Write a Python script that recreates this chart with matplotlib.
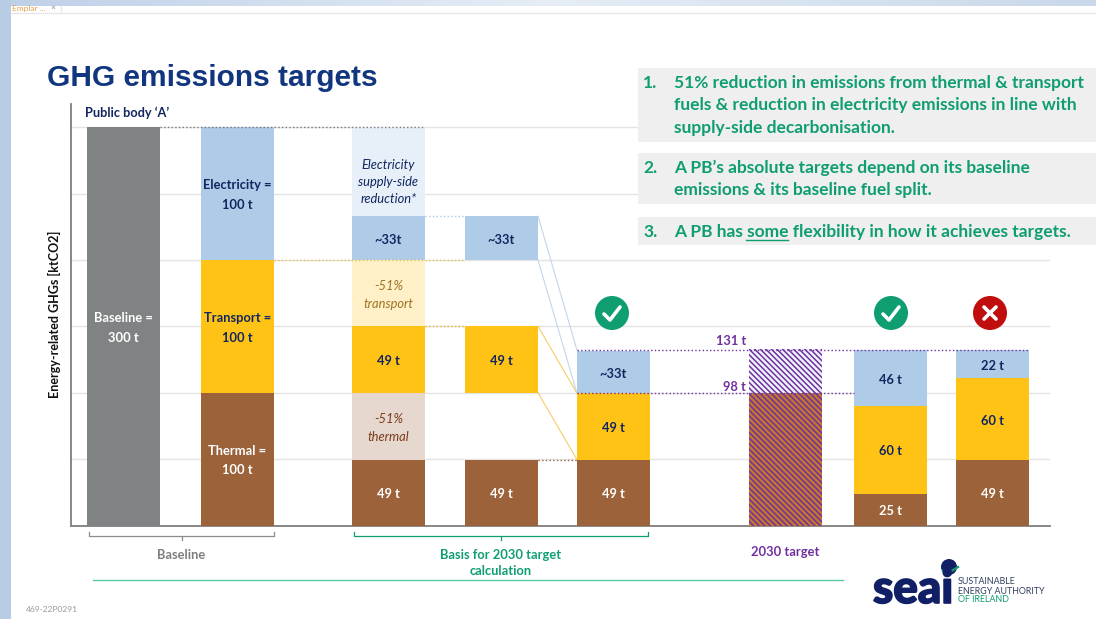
import matplotlib
matplotlib.use('Agg')
import matplotlib.pyplot as plt
import matplotlib.patheffects as pe
from matplotlib.patches import Circle, Rectangle
import numpy as np

plt.rcParams['font.family'] = ['Lato', 'DejaVu Sans']

# chart values (tonnes) as drawn on the slide, bottom to top in each column
baseline_total = [300]
baseline_split = [100, 100, 100]
basis_thermal = [49.5, 49.5, 49.5]
basis_thermal_cut = 50.5
basis_transport = [50, 50, 50]
basis_transport_cut = 50
basis_elec = [33, 33, 32]
basis_elec_cut = 67
target_levels = [99.5, 132]
option_ok = [24, 66, 42]
option_bad = [49.5, 61.5, 21]

baseline_labels = ['Thermal =\n100 t', 'Transport =\n100 t', 'Electricity =\n100 t']
option_ok_labels = ['25 t', '60 t', '46 t']
option_bad_labels = ['49 t', '60 t', '22 t']

BROWN = '#9c6239'
YELLOW = '#ffc316'
BLUE = '#aecbe8'
NAVY = '#12265f'
GREEN = '#0f9d72'
PURPLE = '#7030a0'
GREY = '#7f8383'

W, H = 1096, 619
fig = plt.figure(figsize=(W / 100, H / 100), dpi=100)

# overlay in pixel coords for the slide furniture
bg = fig.add_axes([0, 0, 1, 1])
bg.set_xlim(0, W)
bg.set_ylim(H, 0)
bg.axis('off')

# data axes, x in slide pixels, y in tonnes
left, right, bottom, top = 71, 1050, 525.5, 104
ax = fig.add_axes([left / W, 1 - bottom / H, (right - left) / W, (bottom - top) / H])
ax.patch.set_alpha(0)
ax.set_xlim(left, right)
ax.set_ylim(0, (bottom - top) / 1.328)
for s in ['top', 'right']:
    ax.spines[s].set_visible(False)
for s in ['left', 'bottom']:
    ax.spines[s].set_color('#7f7f7f')
    ax.spines[s].set_linewidth(1.3)
ax.set_xticks([])
ax.set_yticks(np.arange(0, 301, 50))
ax.set_yticklabels([])
ax.tick_params(length=0)
ax.grid(axis='y', color='#e4e4e4', lw=1)
ax.set_axisbelow(True)

bw = 73
xc = [123.5, 237.5, 388.5, 501.5, 613.5, 785.5, 890.5, 992.5]
nudge = 1.2  # slide labels sit a touch under the block centre


def stack(x, values, colors, labels=None, lcolors=None, size=9.3):
    b = 0
    for i, v in enumerate(values):
        ax.bar(x, v, bw, bottom=b, color=colors[i], zorder=3)
        if labels:
            ax.text(x, b + v / 2 - nudge, labels[i], ha='center', va='center', color=lcolors[i],
                    fontsize=size, fontweight='bold', linespacing=1.75, zorder=5)
        b += v


# baseline
ax.bar(xc[0], baseline_total[0], bw, color=GREY, zorder=3)
ax.text(xc[0], baseline_total[0] / 2 - nudge, 'Baseline =\n300 t', ha='center', va='center', color='white',
        fontsize=9.3, fontweight='bold', linespacing=1.75, zorder=5)
stack(xc[1], baseline_split, [BROWN, YELLOW, BLUE], baseline_labels, ['white', NAVY, NAVY])

# reduction column with the pale blocks
heights = [basis_thermal[0], basis_thermal_cut, basis_transport[0], basis_transport_cut, basis_elec[0], basis_elec_cut]
stack(xc[2], heights, [BROWN, '#e6d8ce', YELLOW, '#fff0c8', BLUE, '#e7f0f9'],
      ['49 t', '', '49 t', '', '~33t', ''], ['white', 'k', NAVY, 'k', NAVY, 'k'])
y0 = basis_thermal[0]
ax.text(xc[2], y0 + basis_thermal_cut / 2 - 1.5, '-51%\nthermal', ha='center', va='center', color='#7a3b1d',
        style='italic', fontsize=9.3, linespacing=1.55, zorder=5)
y0 += basis_thermal_cut + basis_transport[0]
ax.text(xc[2], y0 + basis_transport_cut / 2 - 1.5, '-51%\ntransport', ha='center', va='center', color='#9c7322',
        style='italic', fontsize=9.3, linespacing=1.55, zorder=5)
y0 += basis_transport_cut + basis_elec[0]
ax.text(xc[2], y0 + basis_elec_cut / 2 - 8, 'Electricity\nsupply-side\nreduction*', ha='center', va='center',
        color=NAVY, style='italic', fontsize=9.3, linespacing=1.5, zorder=5)

# same blocks without the pale parts
ax.bar(xc[3], basis_thermal[1], bw, color=BROWN, zorder=3)
ax.text(xc[3], basis_thermal[1] / 2 - nudge, '49 t', ha='center', va='center', color='white',
        fontsize=9.3, fontweight='bold', zorder=5)
b4 = basis_thermal[1] + basis_thermal_cut
ax.bar(xc[3], basis_transport[1], bw, bottom=b4, color=YELLOW, zorder=3)
ax.text(xc[3], b4 + basis_transport[1] / 2 - nudge, '49 t', ha='center', va='center', color=NAVY,
        fontsize=9.3, fontweight='bold', zorder=5)
b4 += basis_transport[1] + basis_transport_cut
ax.bar(xc[3], basis_elec[1], bw, bottom=b4, color=BLUE, zorder=3)
ax.text(xc[3], b4 + basis_elec[1] / 2 - nudge, '~33t', ha='center', va='center', color=NAVY,
        fontsize=9.3, fontweight='bold', zorder=5)

# collapsed stack
stack(xc[4], [basis_thermal[2], basis_transport[2], basis_elec[2]], [BROWN, YELLOW, BLUE],
      ['49 t', '49 t', '~33t'], ['white', NAVY, NAVY])

# hatched target
plt.rcParams['hatch.linewidth'] = 1.1
ax.bar(xc[5], target_levels[0], bw, color='#c4762e', edgecolor=PURPLE, hatch='\\\\\\\\\\\\', lw=0, zorder=3)
ax.bar(xc[5], target_levels[1] - target_levels[0] + 1, bw, bottom=target_levels[0], color='#eef2fb',
       edgecolor=PURPLE, hatch='\\\\\\\\\\\\', lw=0, zorder=3)
ax.text(746, target_levels[1] + 7, '131 t', ha='right', va='center', color=PURPLE, fontsize=9.3, fontweight='bold', zorder=5)
ax.text(746, target_levels[0] + 5, '98 t', ha='right', va='center', color=PURPLE, fontsize=9.3, fontweight='bold', zorder=5)

# two options
stack(xc[6], option_ok, [BROWN, YELLOW, BLUE], option_ok_labels, ['white', NAVY, NAVY])
stack(xc[7], option_bad, [BROWN, YELLOW, BLUE], option_bad_labels, ['white', NAVY, NAVY])

# connectors
dot = dict(ls=':', lw=1, zorder=4)
ax.plot([xc[0] + bw / 2, xc[2] + bw / 2], [300, 300], color='#777777', **dot)
ax.plot([xc[1] + bw / 2, xc[3] - bw / 2], [200, 200], color='#e8c050', **dot)
ax.plot([xc[2] + bw / 2, xc[3] - bw / 2], [233, 233], color=BLUE, **dot)
ax.plot([xc[2] + bw / 2, xc[3] - bw / 2], [150, 150], color='#e8b020', **dot)
ax.plot([xc[3] + bw / 2, xc[4] - bw / 2], [49.5, 49.5], color=BROWN, **dot)
ax.plot([xc[4] - bw / 2, xc[7] + bw / 2], [target_levels[1]] * 2, color=PURPLE, **dot)
ax.plot([xc[4] - bw / 2, xc[6] - bw / 2], [target_levels[0]] * 2, color=PURPLE, **dot)
ax.plot([xc[3] + bw / 2, xc[4] - bw / 2], [233, 132], color='#c4d6ea', lw=0.8, zorder=2)
ax.plot([xc[3] + bw / 2, xc[4] - bw / 2], [200, 99.5], color='#c4d6ea', lw=0.8, zorder=2)
ax.plot([xc[3] + bw / 2, xc[4] - bw / 2], [150, 99.5], color='#f3cf66', lw=0.8, zorder=2)
ax.plot([xc[3] + bw / 2, xc[4] - bw / 2], [100, 49.5], color='#f3cf66', lw=0.8, zorder=2)

# slide furniture
bg.add_patch(Rectangle((0, 0), 11, H, color='#b8cce4', lw=0))
bg.imshow(np.linspace(0, 1, 256).reshape(1, -1), extent=(0, W, 6, 0), aspect='auto',
          cmap=matplotlib.colors.LinearSegmentedColormap.from_list('t', ['#bed0e8', '#e6edf6', '#c9d8ea']))
bg.set_xlim(0, W)
bg.set_ylim(H, 0)
bg.plot([11, W], [13, 13], color='#e6e6e6', lw=1)
bg.plot([61, 61], [6, 13], color='#e6e6e6', lw=1)
bg.text(12, 8, 'Emplar ...', color='#e8a050', fontsize=6, va='center', clip_on=True)
bg.text(50, 7, '×', color='#888888', fontsize=6, va='center')

bg.text(47, 77.5, 'GHG emissions targets', family='Liberation Sans', fontweight='bold', color='#11357e',
        fontsize=21.5, va='center')
bg.text(85, 113, 'Public body ‘A’', fontweight='bold', color=NAVY, fontsize=9.2, va='center')
bg.text(54, 314, 'Energy-related GHGs [ktCO2]', rotation=90, ha='center', va='center', fontweight='bold',
        color='#111111', fontsize=9)

# callouts sit over the gridlines
top_ax = fig.add_axes([0, 0, 1, 1])
top_ax.set_xlim(0, W)
top_ax.set_ylim(H, 0)
top_ax.axis('off')
for y, h in [(68, 74), (153, 51), (217, 28)]:
    top_ax.add_patch(Rectangle((637.5, y), W - 637.5, h, color='#efefef', lw=0))
txt = dict(color=GREEN, fontsize=12.5, fontweight='bold', va='center')
for n, y in [('1.', 83), ('2.', 168), ('3.', 232)]:
    top_ax.text(643, y, n, **txt)
for s, y in [('51% reduction in emissions from thermal & transport', 83),
             ('fuels & reduction in electricity emissions in line with', 105),
             ('supply-side decarbonisation.', 128),
             ('A PB’s absolute targets depend on its baseline', 168),
             ('emissions & its baseline fuel split.', 190),
             ('A PB has some flexibility in how it achieves targets.', 232)]:
    top_ax.text(674, y, s, **txt)
top_ax.plot([746, 788], [239.5, 239.5], color=GREEN, lw=1)

# tick and cross badges
for x, c in [(612, GREEN), (891, GREEN)]:
    top_ax.add_patch(Circle((x, 313), 17, color=c, lw=0))
    top_ax.plot([x - 8, x - 2, x + 8], [314, 320, 307], color='white', lw=2.6, solid_capstyle='round')
top_ax.add_patch(Circle((990, 313), 17, color='#c00d0d', lw=0))
top_ax.plot([984, 996], [307, 319], color='white', lw=2.6, solid_capstyle='round')
top_ax.plot([984, 996], [319, 307], color='white', lw=2.6, solid_capstyle='round')

# brackets and group labels
for x0, x1, c in [(89, 274, '#8c8c8c'), (354, 648, GREEN)]:
    m = (x0 + x1) / 2
    top_ax.plot([x0, x0, x1, x1], [532, 536, 536, 532], color=c, lw=0.9)
    top_ax.plot([m, m], [536, 540], color=c, lw=0.9)
top_ax.text(181, 555, 'Baseline', ha='center', va='center', color='#7f7f7f', fontsize=9.3, fontweight='bold')
top_ax.text(501, 563, 'Basis for 2030 target\ncalculation', ha='center', va='center', color=GREEN,
            fontsize=9.3, fontweight='bold', linespacing=1.35)
top_ax.text(785, 552, '2030 target', ha='center', va='center', color=PURPLE, fontsize=9.3, fontweight='bold')
top_ax.plot([93, 843], [579.5, 579.5], color='#5ac8a8', lw=1)
top_ax.text(26, 610, '469-22P0291', color='#999999', fontsize=6, va='center')

# seai logo
top_ax.text(873, 590, 'seai', fontweight='black', color='#101f66', fontsize=33, va='center', ha='left', family='Lato',
            path_effects=[pe.withStroke(linewidth=1.2, foreground='#101f66')])
top_ax.add_patch(Circle((949, 567), 8, color='#101f66', lw=0))
top_ax.plot([943, 950, 958], [571, 572, 567], color=GREEN, lw=1.6)
top_ax.text(958, 582, 'SUSTAINABLE', color='#33405f', fontsize=6.4, va='center')
top_ax.text(958, 591, 'ENERGY AUTHORITY', color='#33405f', fontsize=6.4, va='center')
top_ax.text(958, 600, 'OF IRELAND', color=GREEN, fontsize=6.4, va='center')

fig.savefig('out.png', dpi=100)
